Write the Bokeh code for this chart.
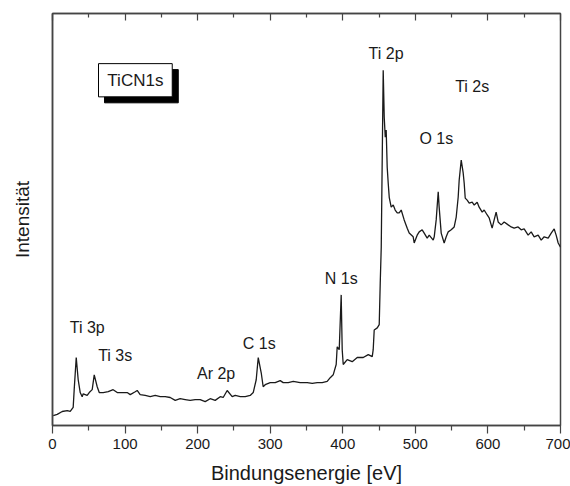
from bokeh.plotting import figure
from bokeh.models import Range1d, LinearAxis, FixedTicker, Label, BoxAnnotation, ColumnDataSource
from bokeh.core.properties import value
from bokeh.embed import file_html
from bokeh.resources import INLINE

# XPS survey spectrum (binding energy in eV, intensity in arbitrary units 0-100)
energy_eV = [1, 6.5, 13.4, 20.3, 24.4, 28.5, 29.9, 32.7, 35.4, 38.2, 40.9, 42.3, 47.8, 50.6,
             54.7, 57.5, 61.6, 64.4, 69.9, 76.8, 83.6, 89.2, 96.0, 102.9, 107.1, 114.0, 116.7,
             120.8, 127.7, 134.6, 141.5, 148.4, 155.3, 162.2, 169.1, 175.9, 182.8, 189.7, 196.6,
             203.5, 210.4, 217.3, 224.2, 231.1, 235.2, 240.7, 247.6, 251.8, 258.7, 265.6, 272.4,
             276.6, 280.7, 283.5, 287.6, 290.3, 293.1, 300.0, 306.9, 313.8, 317.9, 324.8, 331.7,
             341.3, 351.0, 357.9, 364.8, 371.6, 378.5, 382.7, 386.8, 390.9, 392.3, 395.1, 397.8,
             399.2, 400.6, 406.1, 413.0, 419.9, 428.2, 435.1, 440.6, 441.9, 443.3, 447.5, 450.2,
             451.6, 453.0, 455.7, 457.1, 458.5, 459.8, 461.2, 462.6, 464.0, 466.7, 469.5, 472.2,
             475.0, 477.7, 480.5, 484.6, 488.8, 491.5, 497.0, 498.4, 502.5, 505.3, 509.4, 512.2,
             516.3, 519.1, 524.6, 526.0, 528.7, 531.5, 532.8, 535.6, 539.7, 542.5, 545.3, 549.4,
             553.5, 556.3, 559.0, 560.4, 563.2, 565.9, 567.3, 568.7, 571.4, 574.2, 578.3, 581.1,
             585.2, 587.9, 592.1, 594.8, 599.0, 601.7, 605.8, 608.6, 611.3, 614.1, 618.2, 622.4,
             627.9, 632.0, 636.1, 641.6, 645.8, 649.9, 655.4, 659.6, 663.7, 669.2, 673.4, 677.5,
             683.0, 687.2, 691.3, 694.0, 696.8, 700.0]
intensity = [2.4, 2.7, 3.4, 3.6, 3.4, 4.4, 8.7, 16.5, 11.1, 8.0, 7.0, 7.7, 7.3, 8.0,
             8.7, 12.3, 9.4, 8.0, 8.0, 8.2, 8.7, 8.0, 8.0, 8.0, 7.5, 8.2, 8.5,
             7.5, 7.3, 7.0, 7.3, 7.0, 7.0, 6.8, 6.1, 6.5, 6.3, 6.1, 6.3,
             6.3, 5.8, 6.5, 6.1, 7.0, 6.8, 8.5, 7.0, 7.3, 7.0, 7.0, 7.3,
             8.0, 11.1, 16.5, 12.8, 9.4, 9.9, 10.4, 10.4, 10.9, 10.4, 10.4, 10.7,
             10.4, 10.4, 10.2, 10.4, 10.4, 10.7, 11.6, 12.3, 14.8, 19.1, 18.4, 31.7,
             18.4, 14.8, 16.0, 15.5, 16.5, 16.5, 17.2, 16.7, 18.4, 23.2, 23.7, 24.5,
             34.6, 43.3, 86.2, 74.8, 70.0, 71.7, 62.7, 58.8, 55.4, 53.0, 53.5, 52.3,
             51.6, 51.6, 52.3, 49.9, 47.9, 46.7, 45.8, 44.3, 46.2, 47.0, 47.5, 46.7,
             45.5, 46.2, 45.0, 45.8, 49.9, 56.7, 53.0, 46.7, 44.3, 45.8, 47.0, 47.5,
             48.2, 50.6, 55.4, 59.6, 64.4, 61.3, 58.8, 55.2, 54.7, 54.0, 54.2, 53.5,
             54.2, 53.0, 51.8, 52.3, 51.1, 50.4, 47.9, 49.9, 51.8, 49.4, 48.7, 49.4,
             48.7, 48.2, 47.9, 48.2, 47.5, 47.7, 46.2, 47.0, 45.8, 46.2, 45.0, 45.8,
             45.5, 46.7, 47.7, 46.2, 44.3, 43.3]

peak_names = ["Ti 3p", "Ti 3s", "Ar 2p", "C 1s", "N 1s", "Ti 2p", "O 1s", "Ti 2s"]
peak_label_x = [47.9, 86.4, 225.5, 284.8, 397.9, 459.7, 528.9, 578.3]
peak_label_y = [23.7, 16.9, 12.6, 19.9, 35.6, 90.3, 69.7, 82.3]

sample_name = "TiCN1s"
x_ticks = [0, 100, 200, 300, 400, 500, 600, 700]
x_minor_ticks = [50, 150, 250, 350, 450, 550, 650]

FONT = "Liberation Sans"
INK = "#1a1a1a"
AX = "#444444"

p = figure(width=570, height=486, output_backend="svg", toolbar_location=None,
           x_range=Range1d(0, 700), y_range=Range1d(0, 100),
           x_axis_location=None, y_axis_location=None,
           min_border_left=52, min_border_right=10, min_border_top=13, min_border_bottom=60)
p.background_fill_color = "white"
p.border_fill_color = "white"
p.outline_line_color = AX
p.outline_line_width = 1.5
p.grid.visible = False

ticker = FixedTicker(ticks=x_ticks, minor_ticks=x_minor_ticks)

bottom = LinearAxis(ticker=ticker, axis_label="Bindungsenergie [eV]")
bottom.axis_line_color = AX
bottom.axis_line_width = 1.5
bottom.major_tick_line_color = AX
bottom.minor_tick_line_color = AX
bottom.major_tick_line_width = 1.2
bottom.minor_tick_line_width = 1.2
bottom.major_tick_in = 0
bottom.major_tick_out = 8
bottom.minor_tick_in = 0
bottom.minor_tick_out = 5
bottom.major_label_text_font = FONT
bottom.major_label_text_font_size = "15px"
bottom.major_label_text_color = INK
bottom.major_label_standoff = 5
bottom.axis_label_text_font = FONT
bottom.axis_label_text_font_size = "20px"
bottom.axis_label_text_font_style = "normal"
bottom.axis_label_text_color = INK
bottom.axis_label_standoff = 10
p.add_layout(bottom, "below")

top = LinearAxis(ticker=ticker)
top.axis_line_color = AX
top.axis_line_width = 1.5
top.major_tick_line_color = AX
top.minor_tick_line_color = AX
top.major_tick_line_width = 1.2
top.minor_tick_line_width = 1.2
top.major_tick_in = 7
top.major_tick_out = 0
top.minor_tick_in = 4
top.minor_tick_out = 0
top.major_label_text_font_size = "0px"
top.major_label_text_alpha = 0
top.major_label_standoff = 0
p.add_layout(top, "above")

left = LinearAxis(ticker=FixedTicker(ticks=[]), axis_label="Intensität")
left.axis_line_color = AX
left.axis_line_width = 1.5
left.major_tick_in = 0
left.major_tick_out = 0
left.minor_tick_in = 0
left.minor_tick_out = 0
left.major_label_text_font_size = "0px"
left.major_label_standoff = 0
left.axis_label_text_font = FONT
left.axis_label_text_font_size = "19px"
left.axis_label_text_font_style = "normal"
left.axis_label_text_color = INK
left.axis_label_standoff = 20
p.add_layout(left, "left")

p.line(energy_eV, intensity, line_color=INK, line_width=1.3)

src = ColumnDataSource(dict(x=peak_label_x, y=peak_label_y, t=peak_names))
p.text(x="x", y="y", text="t", source=src, text_font=value(FONT), text_font_size="16px",
       text_color=INK, text_align="center", text_baseline="middle")

# sample label box with drop shadow
bx, by = 114.2, 83.8          # centre of the box (data units)
hw, hh = 50.8, 4.03           # half width / half height (data units)
dx, dy = 8.3, 1.45            # shadow offset (data units)
p.add_layout(BoxAnnotation(left=bx - hw + dx, right=bx + hw + dx, bottom=by - hh - dy, top=by + hh - dy,
                           fill_color="black", fill_alpha=1.0, line_color="black", line_alpha=1.0))
p.add_layout(BoxAnnotation(left=bx - hw, right=bx + hw, bottom=by - hh, top=by + hh,
                           fill_color="white", fill_alpha=1.0, line_color="black", line_width=1, line_alpha=1.0))
p.add_layout(Label(x=bx, y=by, text=sample_name, text_font=FONT, text_font_size="17px",
                   text_color=INK, text_align="center", text_baseline="middle"))

open("out.html", "w").write(file_html(p, INLINE))
